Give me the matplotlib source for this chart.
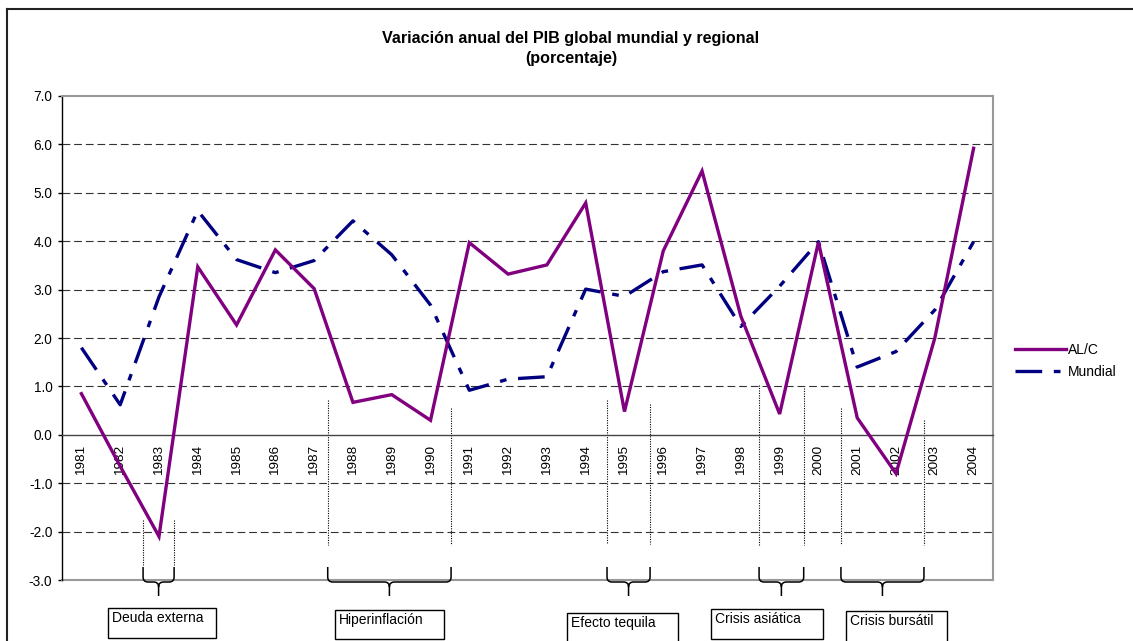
import matplotlib
matplotlib.use("Agg")
import matplotlib.pyplot as plt
from matplotlib.path import Path
from matplotlib.patches import PathPatch, Rectangle
from matplotlib.lines import Line2D

plt.rcParams['font.family'] = ['Liberation Sans', 'DejaVu Sans']

# =====================================================
# Data
# =====================================================
years = [str(y) for y in range(1981, 2005)]

alc = [0.85, -0.65, -2.1, 3.47, 2.27, 3.82, 3.02, 0.67, 0.83, 0.30,
       3.97, 3.32, 3.51, 4.79, 0.48, 3.80, 5.45, 2.45, 0.43, 3.98,
       0.35, -0.80, 2.00, 5.92]

mundial = [1.80, 0.62, 2.85, 4.63, 3.62, 3.35, 3.60, 4.42, 3.72, 2.68,
           0.92, 1.15, 1.20, 3.01, 2.86, 3.37, 3.51, 2.24, 3.07, 3.99,
           1.40, 1.72, 2.58, 3.99]

# Events (start / end in year units, top of dotted guides)
events = ["Deuda externa", "Hiperinflación", "Efecto tequila",
          "Crisis asiática", "Crisis bursátil"]
event_start = [1982.59, 1987.35, 1994.55, 1998.47, 2000.58]
event_end = [1983.39, 1990.53, 1995.66, 1999.62, 2002.72]
guide_top_left = [-1.76, 0.72, 0.72, 1.03, 0.56]
guide_top_right = [-1.76, 0.56, 0.64, 0.97, 0.31]
guide_bottom = [-2.69, -2.27, -2.25, -2.27, -2.27]

# Label boxes in figure pixels (left, top, width, height)
box_layout = [(108, 608, 108, 30), (335, 610, 109, 29), (567, 613, 111, 32),
              (711, 609, 112, 30), (846, 611, 101, 32)]

# -----------------------------------------------------
# Figure
# -----------------------------------------------------
W, H = 1133, 641
fig = plt.figure(figsize=(W / 100, H / 100), dpi=100)

ax = fig.add_axes([62 / W, (H - 580) / H, (993 - 62) / W, (580 - 96) / H])

x = list(range(len(years)))

ax.plot(x, alc, color="#800080", lw=2.4, solid_joinstyle="miter",
        label="AL/C", zorder=4)
ax.plot(x, mundial, color="#000080", lw=2.4, dashes=(8, 3.5, 2, 3.5),
        dash_capstyle="butt", label="Mundial", zorder=3)

ax.set_xlim(-0.5, len(years) - 0.5)
ax.set_ylim(-3, 7)

# Gridlines
for v in [-2, -1, 1, 2, 3, 4, 5, 6]:
    ax.axhline(v, color="#333333", lw=0.8, linestyle=(0, (7, 3.5)), zorder=1)

# Plot area frame
ax.spines["top"].set_color("#999999")
ax.spines["top"].set_linewidth(1.5)
ax.spines["right"].set_color("#999999")
ax.spines["right"].set_linewidth(1.5)
ax.spines["left"].set_color("black")
ax.spines["left"].set_linewidth(1.0)
ax.spines["bottom"].set_position(("data", 0))
ax.spines["bottom"].set_color("#444444")
ax.spines["bottom"].set_linewidth(1.0)
ax.axhline(-3, color="#999999", lw=1.5, clip_on=False, zorder=2)

ax.set_yticks(range(-3, 8))
ax.set_yticklabels([f"{v:.1f}" for v in range(-3, 8)])
ax.tick_params(axis="y", direction="out", length=3, width=1, pad=4,
               labelsize=9.8)

ax.set_xticks(x)
ax.set_xticklabels(years, rotation=90)
ax.tick_params(axis="x", length=0, pad=7, labelsize=9.7)

# Dotted guides for events
for i in range(len(events)):
    xs = event_start[i] - 1981
    xe = event_end[i] - 1981
    ax.plot([xs, xs], [guide_top_left[i], guide_bottom[i]], color="black",
            lw=0.8, linestyle=(0, (1, 1.2)), zorder=2)
    ax.plot([xe, xe], [guide_top_right[i], guide_bottom[i]], color="black",
            lw=0.8, linestyle=(0, (1, 1.2)), zorder=2)

# Title
fig.text(571 / W, 1 - 38 / H,
         "Variación anual del PIB global mundial y regional",
         ha="center", va="center", fontsize=11.6, fontweight="bold")
fig.text(571 / W, 1 - 59 / H, "(porcentaje)",
         ha="center", va="center", fontsize=11.6, fontweight="bold")

# Legend
ax.legend(loc="center left", bbox_to_anchor=(1015 / W, 1 - 361 / H),
          bbox_transform=fig.transFigure, frameon=False, fontsize=10,
          handlelength=3.7, handletextpad=0.12, labelspacing=0.55,
          borderpad=0, borderaxespad=0)

# -----------------------------------------------------
# Overlay in pixel coords: braces and label boxes
# -----------------------------------------------------
ov = fig.add_axes([0, 0, 1, 1])
ov.set_xlim(0, W)
ov.set_ylim(H, 0)
ov.axis("off")


def brace(x0, x1, yt=567, ym=582, yp=596, r=5):
    xc = (x0 + x1) / 2
    verts = [(x0, yt), (x0, ym - r), (x0, ym), (x0 + r, ym),
             (xc - r, ym), (xc, ym), (xc, ym + r), (xc, yp),
             (x1, yt), (x1, ym - r), (x1, ym), (x1 - r, ym),
             (xc + r, ym), (xc, ym), (xc, ym + r)]
    codes = [Path.MOVETO, Path.LINETO, Path.CURVE3, Path.CURVE3,
             Path.LINETO, Path.CURVE3, Path.CURVE3, Path.LINETO,
             Path.MOVETO, Path.LINETO, Path.CURVE3, Path.CURVE3,
             Path.LINETO, Path.CURVE3, Path.CURVE3]
    ov.add_patch(PathPatch(Path(verts, codes), fill=False, lw=1.1,
                           edgecolor="black"))


for i, name in enumerate(events):
    px0 = ax.transData.transform((event_start[i] - 1981, 0))[0]
    px1 = ax.transData.transform((event_end[i] - 1981, 0))[0]
    brace(px0, px1)

    bx, by, bw, bh = box_layout[i]
    ov.add_patch(Rectangle((bx, by), bw, bh, fill=False, lw=1.0,
                           edgecolor="black", clip_on=False))
    ov.text(bx + 4, by + 10, name, ha="left", va="center", fontsize=10)

# Outer chart frame
fig.add_artist(Line2D([7 / W, 7 / W], [0, 1 - 9 / H], color="#222222",
                      lw=1.5, transform=fig.transFigure))
fig.add_artist(Line2D([7 / W, 1], [1 - 9 / H, 1 - 9 / H], color="#222222",
                      lw=1.5, transform=fig.transFigure))

fig.savefig("out.png", dpi=100)
